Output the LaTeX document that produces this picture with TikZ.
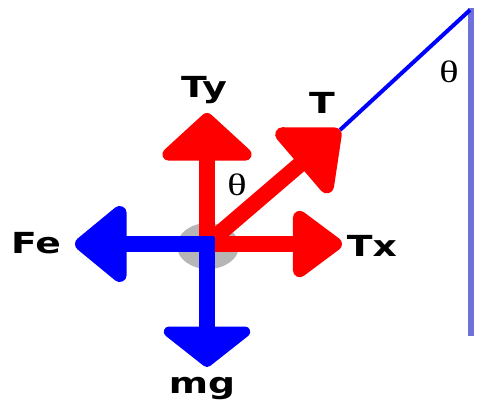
\documentclass[tikz,border=0pt]{standalone}
\usepackage{fontspec}
\usetikzlibrary{arrows.meta}
\newfontfamily\lblfont[FakeStretch=1.3]{DejaVu Sans}
\newfontfamily\grkfont[FakeStretch=1.3]{Liberation Serif}
\definecolor{wallblue}{RGB}{112,112,221}
\definecolor{bobgray}{RGB}{182,182,182}

\begin{document}
\begin{tikzpicture}[x=1pt, y=-1pt,
    force/.style={line width=16pt},
    lbl/.style={anchor=base, inner sep=0pt, font=\lblfont\bfseries\fontsize{29}{30}\selectfont},
    ang/.style={anchor=base, inner sep=0pt, font=\grkfont\fontsize{31}{32}\selectfont}]
    \useasboundingbox (0,0) rectangle (477,402);

    % Wall, string and the bob
    \coordinate (top) at (470,10);
    \draw[wallblue, line width=6pt] (471,8) -- (471,336);
    \fill[bobgray] (208,246) ellipse (31 and 23);

    % Points of the force diagram
    \coordinate (O) at (207,244);
    \coordinate (tyTip) at (207,113);
    \coordinate (txTip) at (342,244);
    \coordinate (tTip) at (340,130);
    \coordinate (feTip) at (75,244);
    \coordinate (mgTip) at (207,367);
    \coordinate (feStart) at (214,244);
    \coordinate (mgStart) at (207,237);

    \draw[blue, line width=4pt] (tTip) -- (top);

    % Tension and its components
    \draw[force, red, -{Triangle[round, length=50pt, width=106pt]}] (O) -- (tyTip);
    \draw[force, red, -{Triangle[round, length=54pt, width=76pt]}] (O) -- (txTip);
    \draw[force, red, -{Triangle[round, length=58pt, width=96pt]}] (O) -- (tTip);

    % Electric force and weight
    \draw[force, blue, -{Triangle[round, length=56pt, width=88pt]}] (feStart) -- (feTip);
    \draw[force, blue, -{Triangle[round, length=42pt, width=104pt]}] (mgStart) -- (mgTip);

    % Labels
    \node[lbl] (ty) at (204,97) {Ty};
    \node[lbl] (t) at (322,113) {T};
    \node[lbl] (fe) at (36,253) {Fe};
    \node[lbl] (tx) at (372,256) {Tx};
    \node[lbl] (mg) at (202,393) {mg};
    \node[ang] (th1) at (237,195) {θ};
    \node[ang] (th2) at (449,82) {θ};
\end{tikzpicture}
\end{document}
